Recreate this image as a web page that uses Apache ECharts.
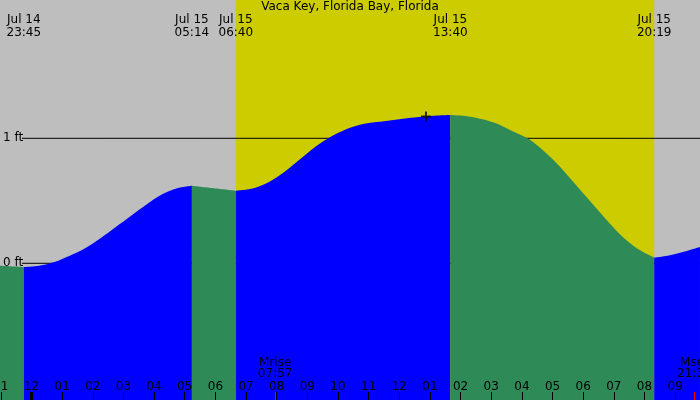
<!DOCTYPE html>
<html>
<head>
<meta charset="utf-8">
<script src="https://cdn.jsdelivr.net/npm/echarts@6/dist/echarts.min.js"></script>
<style>
html,body{margin:0;padding:0;background:#bebebe;}
#chart{width:700px;height:400px;}
</style>
</head>
<body>
<div id="chart"></div>
<script>
// ---- data (hours since Jul 15 00:00, feet) ----
const TITLE = 'Vaca Key, Florida Bay, Florida';
const curveTimes = [-1.03, -0.25, 0.25, 0.75, 1.25, 1.75, 2.25, 2.75, 3.25, 3.75, 4.25, 4.75, 5.233,
  5.95, 6.667,
  7.25, 7.75, 8.25, 8.75, 9.25, 9.75, 10.25, 10.75, 11.25, 11.75, 12.25, 12.75, 13.25, 13.667,
  14.25, 14.75, 15.25, 15.75, 16.25, 16.75, 17.25, 17.75, 18.25, 18.75, 19.25, 19.75, 20.317,
  20.75, 21.25, 21.81];
const curveFeet  = [-0.02, -0.03, -0.02, 0.01, 0.06, 0.12, 0.20, 0.29, 0.38, 0.47, 0.55, 0.60, 0.62,
  0.60, 0.58,
  0.60, 0.65, 0.73, 0.83, 0.93, 1.01, 1.07, 1.11, 1.13, 1.145, 1.16, 1.172, 1.182, 1.186,
  1.175, 1.15, 1.11, 1.05, 0.99, 0.89, 0.77, 0.63, 0.49, 0.35, 0.22, 0.12, 0.045,
  0.06, 0.09, 0.13];
const extremeTimes  = [-0.25, 5.233, 6.667, 13.667, 20.317];
const extremeLabels = ['Jul 14\n23:45', 'Jul 15\n05:14', 'Jul 15\n06:40', 'Jul 15\n13:40', 'Jul 15\n20:19'];
const sunrise = 6.667, sunset = 20.317;
const moonTimes  = [7.95, 21.63];
const moonLabels = ['Mrise\n07:57', 'Mset\n21:38'];
const hourTicks  = [-1,0,1,2,3,4,5,6,7,8,9,10,11,12,13,14,15,16,17,18,19,20,21];
const hourLabels = ['11','12','01','02','03','04','05','06','07','08','09','10','11','12','01','02','03','04','05','06','07','08','09'];
const levelValues = [0, 1];
const nowPoint = [12.87, 1.174];

// ---- axis ranges ----
const XMIN = -1.0277, XMAX = 21.811;
const YMIN = -1.0936, YMAX = 2.1064;
const HLINE_START = -0.31;

const FONT = 'DejaVu Sans';
const GRAY = '#bebebe', YELLOW = '#cccc00', BLUE = '#0000ff', GREEN = '#2e8b57';

// split curve into rising / falling segments at extremes
const segments = [];
let cur = [];
for (let i = 0; i < curveTimes.length; i++) {
  cur.push([curveTimes[i], curveFeet[i]]);
  if (extremeTimes.includes(curveTimes[i]) && cur.length > 1) {
    segments.push(cur);
    cur = [[curveTimes[i], curveFeet[i]]];
  }
}
if (cur.length > 1) segments.push(cur);

const series = [];
// daylight
series.push({
  type: 'line', z: 1, silent: true, showSymbol: false,
  data: [[sunrise, YMAX], [sunset, YMAX]],
  lineStyle: { width: 0 },
  areaStyle: { color: YELLOW, opacity: 1, origin: 'start' }
});
// level lines
levelValues.forEach(v => series.push({
  type: 'line', z: 2, silent: true, showSymbol: false,
  data: [[HLINE_START, v], [XMAX, v]],
  lineStyle: { color: '#000', width: 1 }
}));
// tide segments
segments.forEach(seg => {
  const rising = seg[seg.length - 1][1] > seg[0][1];
  series.push({
    type: 'line', z: 3, silent: true, showSymbol: false,
    smooth: 0.3,
    data: seg,
    lineStyle: { width: 0 },
    areaStyle: { color: rising ? BLUE : GREEN, opacity: 1, origin: 'start' }
  });
});
// current time marker
series.push({
  type: 'scatter', z: 5, silent: true,
  data: [nowPoint],
  symbol: 'path://M0,4H10V6H0Z M4,0H6V10H4Z',
  symbolSize: 10,
  itemStyle: { color: '#000' }
});

const baseX = { type: 'value', min: XMIN, max: XMAX, z: 10, splitLine: { show: false }, axisLine: { show: false, onZero: false } };

const option = {
  animation: false,
  backgroundColor: GRAY,
  title: {
    text: TITLE, left: 'center', top: 1, padding: 0, z: 10,
    textStyle: { fontFamily: FONT, fontSize: 12, fontWeight: 'normal', color: '#000' }
  },
  grid: { left: 0, right: 0, top: 0, bottom: 0, containLabel: false, outerBoundsMode: 'none' },
  xAxis: [
    Object.assign({}, baseX, {
      position: 'bottom',
      axisTick: { show: true, inside: true, length: 8, customValues: hourTicks, lineStyle: { color: '#000', width: 1 } },
      axisLabel: {
        show: true, inside: true, margin: 7, customValues: hourTicks,
        showMinLabel: true, showMaxLabel: true,
        fontFamily: FONT, fontSize: 12, color: '#000',
        formatter: v => hourLabels[hourTicks.indexOf(Math.round(v))]
      }
    }),
    Object.assign({}, baseX, {
      position: 'top',
      axisTick: { show: false },
      axisLabel: {
        show: true, inside: true, margin: 13, customValues: extremeTimes,
        showMinLabel: true, showMaxLabel: true,
        fontFamily: FONT, fontSize: 12, lineHeight: 13, color: '#000',
        formatter: v => extremeLabels[extremeTimes.findIndex(t => Math.abs(t - v) < 1e-6)]
      }
    }),
    Object.assign({}, baseX, {
      position: 'bottom',
      axisTick: { show: true, inside: true, length: 8, customValues: [0], lineStyle: { color: '#000', width: 3 } },
      axisLabel: { show: false }
    }),
    Object.assign({}, baseX, {
      position: 'bottom',
      axisTick: { show: true, inside: true, length: 8, customValues: moonTimes, lineStyle: { color: '#ff0000', width: 1 } },
      axisLabel: {
        show: true, inside: true, margin: 21, customValues: moonTimes,
        showMinLabel: true, showMaxLabel: true,
        fontFamily: FONT, fontSize: 12, lineHeight: 10.5, color: '#000',
        formatter: v => moonLabels[moonTimes.findIndex(t => Math.abs(t - v) < 1e-6)]
      }
    })
  ],
  yAxis: {
    type: 'value', min: YMIN, max: YMAX, z: 10,
    splitLine: { show: false }, axisLine: { show: false }, axisTick: { show: false },
    axisLabel: {
      show: true, inside: true, margin: 3, customValues: levelValues,
      fontFamily: FONT, fontSize: 12, color: '#000',
      formatter: v => v + ' ft'
    }
  },
  series: series
};

const chart = echarts.init(document.getElementById('chart'), null, { renderer: 'canvas' });
chart.setOption(option);
</script>
</body>
</html>
